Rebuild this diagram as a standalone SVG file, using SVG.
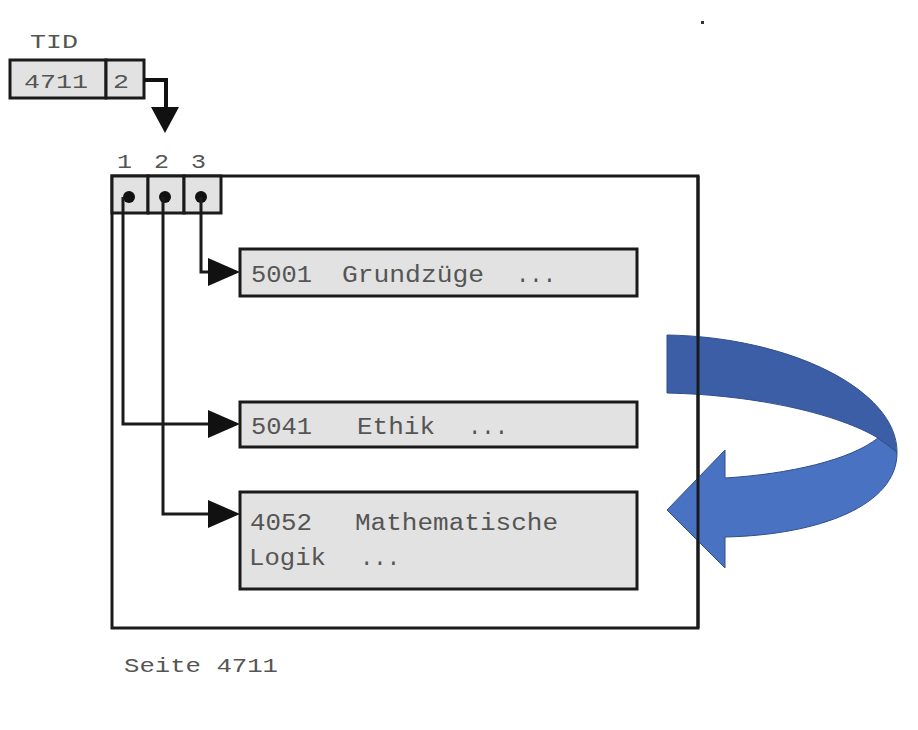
<svg xmlns="http://www.w3.org/2000/svg" width="918" height="730" viewBox="0 0 918 730">
<style>
.box{fill:#e2e2e2;stroke:#1a1a1a;stroke-width:3}
.t{font-family:"Liberation Mono","DejaVu Sans Mono",monospace;fill:#555;font-size:23px}
.s{font-family:"Liberation Mono","DejaVu Sans Mono",monospace;fill:#555;font-size:21px}
.ln{fill:none;stroke:#1a1a1a;stroke-width:3}
</style>
<rect width="918" height="730" fill="#fff"/>
<rect x="701" y="21" width="3" height="3" fill="#333"/>

<g id="tid">
<text class="s" x="30" y="48" textLength="48" lengthAdjust="spacingAndGlyphs">TID</text>
<rect class="box" x="10" y="60" width="96" height="38"/>
<rect class="box" x="106" y="60" width="38" height="38"/>
<text class="s" x="24" y="88" textLength="64" lengthAdjust="spacingAndGlyphs">4711</text>
<text class="s" x="113" y="88" textLength="16" lengthAdjust="spacingAndGlyphs">2</text>
</g>

<g id="seite">
<rect x="112" y="176" width="586" height="452" fill="none" stroke="#1a1a1a" stroke-width="3"/>
<text class="s" x="117" y="168" textLength="15" lengthAdjust="spacingAndGlyphs">1</text>
<text class="s" x="154" y="168" textLength="15" lengthAdjust="spacingAndGlyphs">2</text>
<text class="s" x="191" y="168" textLength="15" lengthAdjust="spacingAndGlyphs">3</text>
<rect class="box" x="112" y="176" width="36" height="37"/>
<rect class="box" x="148" y="176" width="36" height="37"/>
<rect class="box" x="184" y="176" width="37" height="37"/>
<circle cx="129" cy="197" r="6" fill="#111"/>
<circle cx="165" cy="197" r="6" fill="#111"/>
<circle cx="201" cy="197" r="6" fill="#111"/>
<text class="s" x="124" y="672" textLength="154" lengthAdjust="spacingAndGlyphs">Seite 4711</text>
</g>

<g id="t5001">
<rect class="box" x="240" y="249" width="397" height="47"/>
<text class="t" x="251" y="282" textLength="61" lengthAdjust="spacingAndGlyphs">5001</text>
<text class="t" x="342" y="282" textLength="142" lengthAdjust="spacingAndGlyphs">Grundzüge</text>
<text class="t" x="516" y="282" textLength="40" lengthAdjust="spacingAndGlyphs">...</text>
</g>
<g id="t5041">
<rect class="box" x="240" y="402" width="397" height="45"/>
<text class="t" x="251" y="434" textLength="61" lengthAdjust="spacingAndGlyphs">5041</text>
<text class="t" x="357" y="434" textLength="78" lengthAdjust="spacingAndGlyphs">Ethik</text>
<text class="t" x="468" y="434" textLength="40" lengthAdjust="spacingAndGlyphs">...</text>
</g>
<g id="t4052">
<rect class="box" x="240" y="492" width="397" height="97"/>
<text class="t" x="250" y="530" textLength="62" lengthAdjust="spacingAndGlyphs">4052</text>
<text class="t" x="355" y="530" textLength="203" lengthAdjust="spacingAndGlyphs">Mathematische</text>
<text class="t" x="249" y="565" textLength="77" lengthAdjust="spacingAndGlyphs">Logik</text>
<text class="t" x="360" y="565" textLength="40" lengthAdjust="spacingAndGlyphs">...</text>
</g>

<g id="connectors">
<path d="M144,80 H166 V108" fill="none" stroke="#111" stroke-width="4"/>
<path d="M151,107 L179,107 L165,133 Z" fill="#111"/>
<path class="ln" d="M123,197 V424 H212"/>
<path d="M208,410 L240,424 L208,438 Z" fill="#111"/>
<path class="ln" d="M163,197 V514 H212"/>
<path d="M208,500 L240,514 L208,528 Z" fill="#111"/>
<path class="ln" d="M201,197 V272 H212"/>
<path d="M208,258 L240,272 L208,286 Z" fill="#111"/>
</g>

<g id="blue-arrow">
<path d="M878,438 L897,452 C898,505 820,535 725,537 L725,568 L667,510 L725,450 L725,478 C790,474 850,460 878,438 Z" fill="#4a72c2" stroke="#2f4f8a" stroke-width="1"/>
<path d="M667,335 C790,337 897,390 897,452 L878,438 C840,415 760,395 667,393 Z" fill="#3b5ea6" stroke="#2f4f8a" stroke-width="1"/>
</g>
<line x1="698" y1="176" x2="698" y2="628" stroke="#1a1a1a" stroke-width="3"/>
</svg>
